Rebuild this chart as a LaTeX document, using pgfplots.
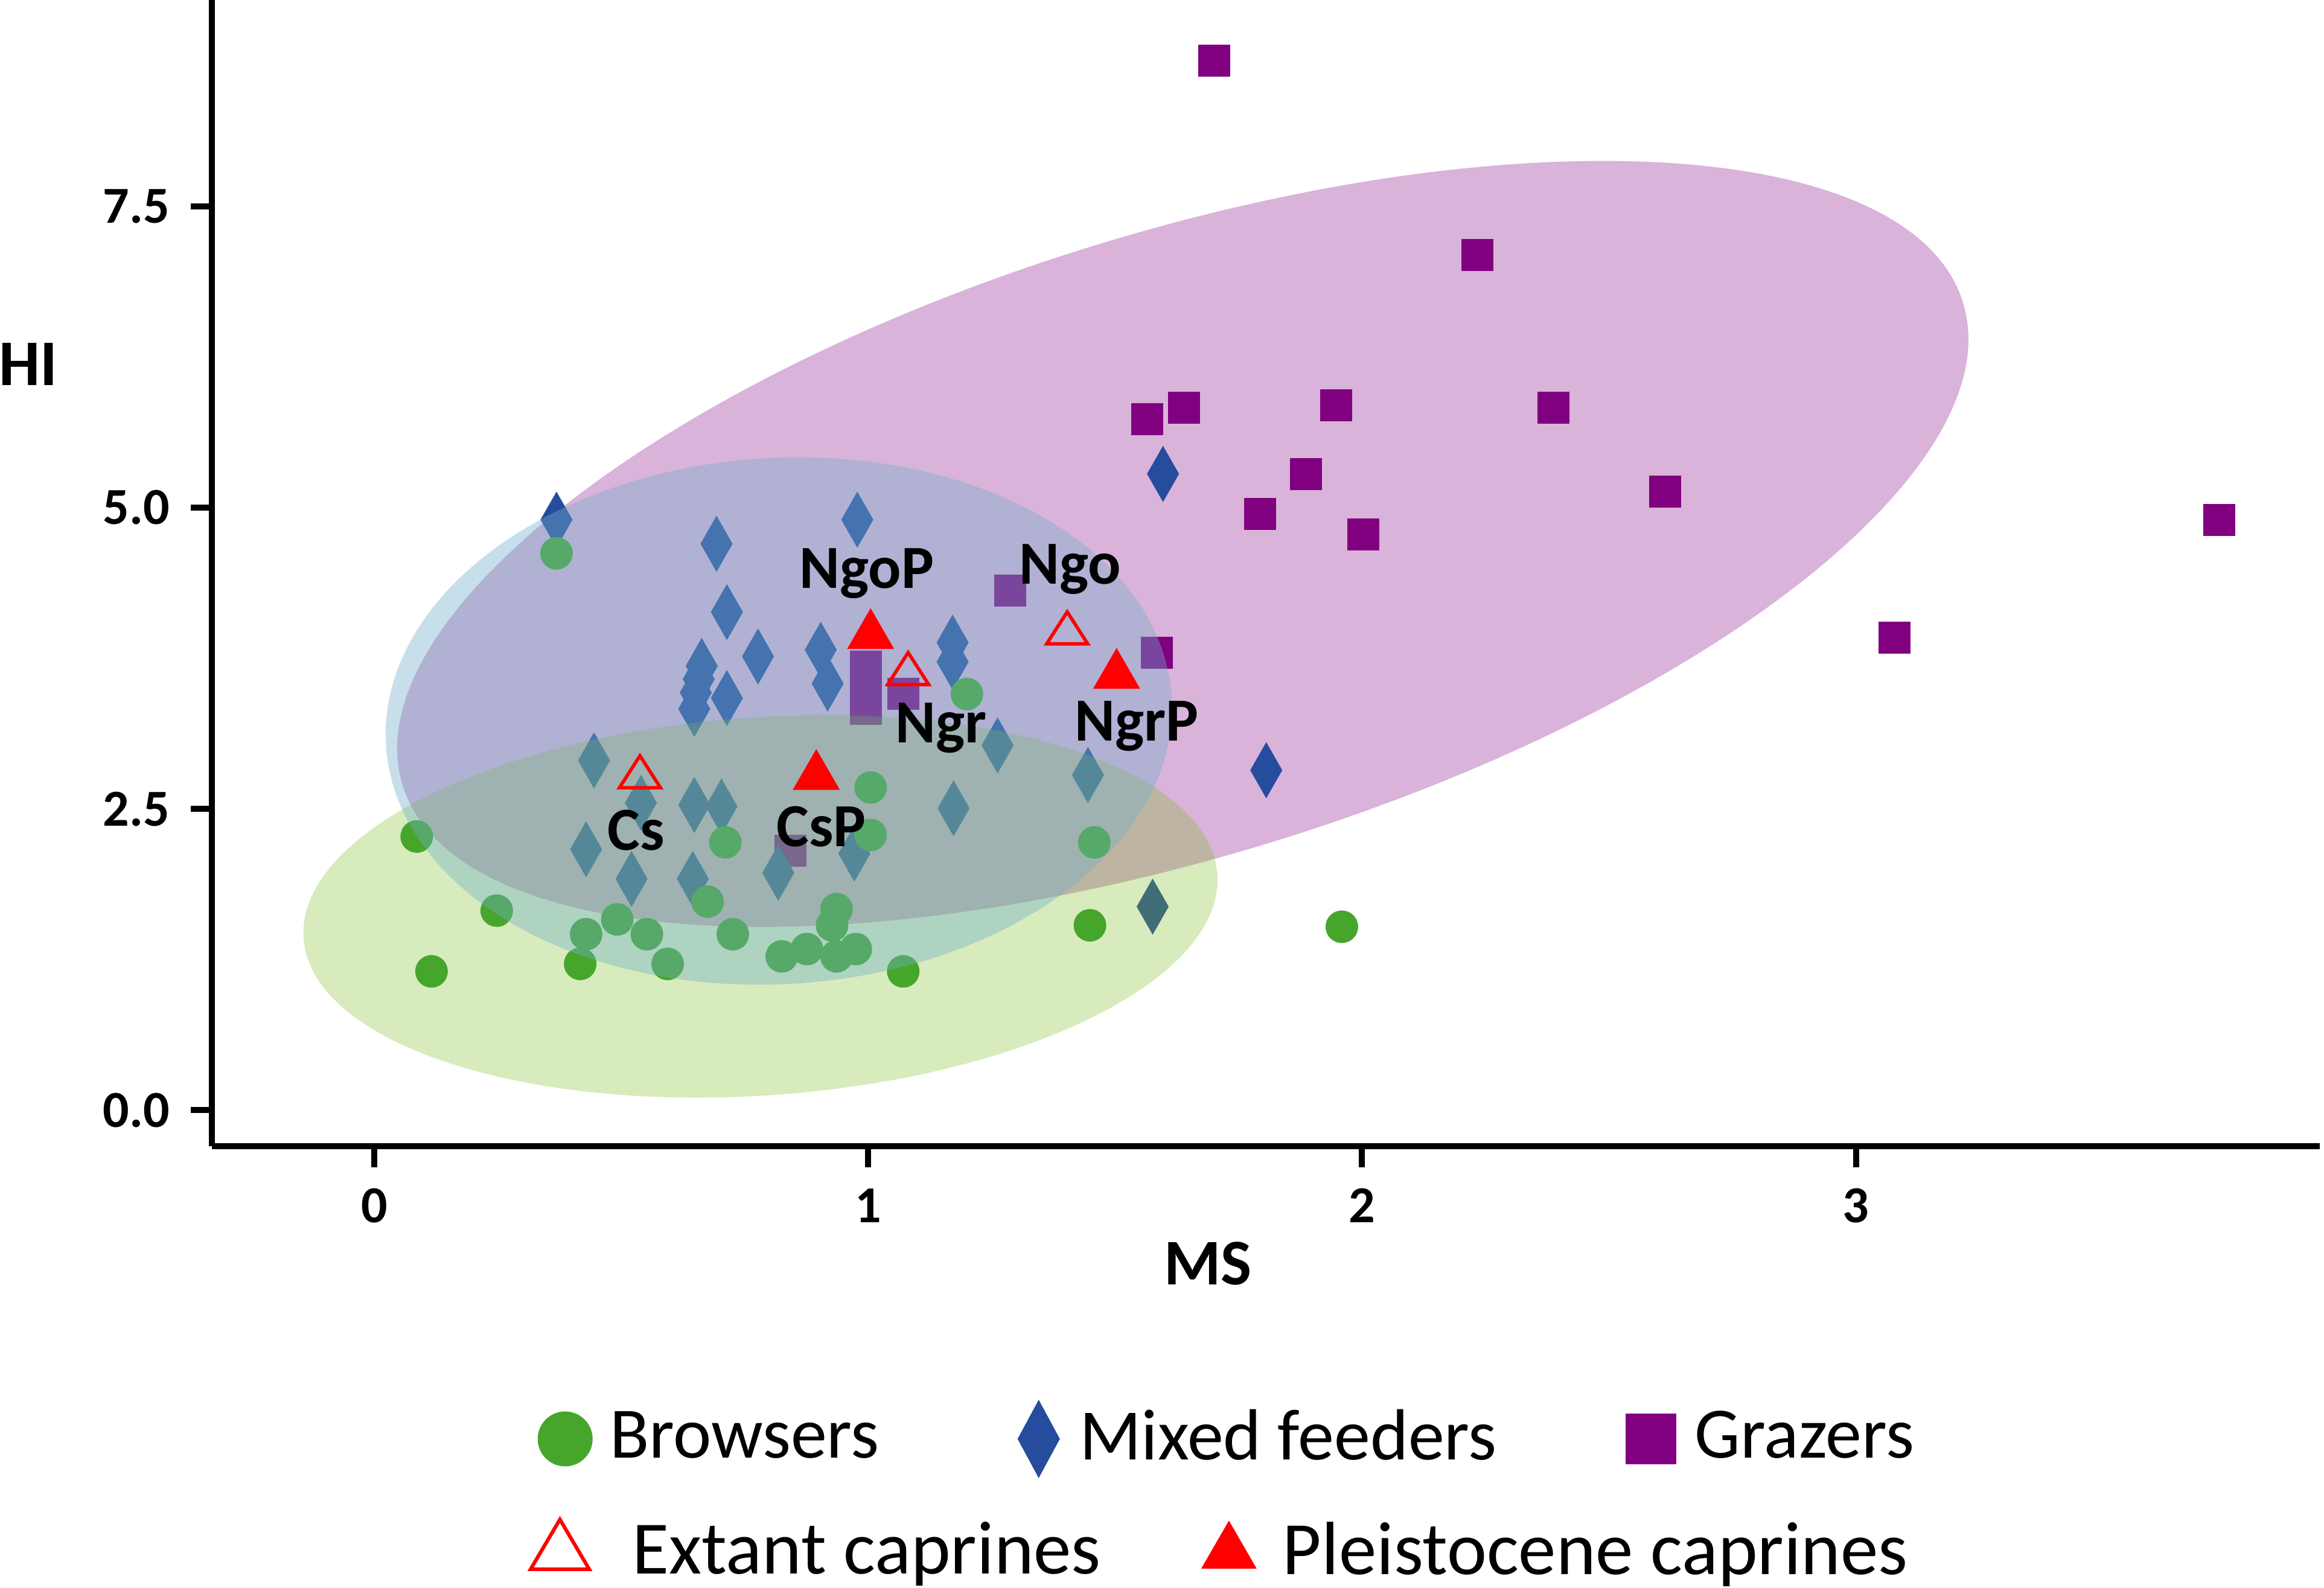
\documentclass[border=0pt]{standalone}
\usepackage{fontspec}
\setmainfont{Carlito}
\usepackage{pgfplots}
\pgfplotsset{compat=1.18}
\definecolor{browse}{HTML}{45A62B}
\definecolor{mixed}{RGB}{38,76,158}
\definecolor{graze}{HTML}{800080}
\definecolor{pinkell}{HTML}{D9B3D9}
\definecolor{greenell}{RGB}{125,188,32}
\definecolor{blueell}{RGB}{115,175,202}
\begin{document}
\begin{tikzpicture}
\useasboundingbox (-35.11pt,-73.2pt) rectangle (349.9pt,189.9pt);
\begin{axis}[
  at={(0pt,0pt)}, anchor=south west,
  scale only axis, width=349.2pt, height=189.9pt,
  xmin=-0.3286, xmax=3.939, ymin=-0.299, ymax=9.213,
  clip marker paths=true,
  axis x line*=bottom, axis y line*=left,
  axis line style={line width=1pt, black},
  xtick={0,1,2,3}, xticklabels={0,1,2,3},
  ytick={0,2.5,5,7.5}, yticklabels={0.0,2.5,5.0,7.5},
  tick align=outside, major tick length=3.5pt,
  tick style={line width=1pt, black},
  ticklabel style={font=\bfseries\fontsize{8.6}{10}\selectfont},
  xlabel={MS}, ylabel={HI},
  label style={font=\bfseries\fontsize{10.8}{13}\selectfont},
  xlabel style={at={(axis description cs:0.4725,-0.1211)}, anchor=base},
  ylabel style={at={(axis description cs:-0.0872,0.682)}, anchor=center, rotate=-90},
  legend columns=3,
  legend image code/.code={\draw[#1] plot coordinates {(0pt,0pt)};},
  legend cell align=left,
  legend style={at={(0.1547,-0.2554)}, anchor=west, draw=none, fill=none,
    inner sep=0pt, outer sep=0pt, font=\fontsize{12}{14.4}\selectfont,
    nodes={inner xsep=0pt, inner ysep=1pt},
    /tikz/column 1/.style={column sep=2.9pt},
    /tikz/column 2/.style={column sep=23pt},
    /tikz/column 3/.style={column sep=3.3pt},
    /tikz/column 4/.style={column sep=21.4pt},
    /tikz/column 5/.style={column sep=3.1pt}},
]
% grazer ellipse (below markers)
\fill[pinkell] (axis cs:1.637,4.699) ellipse [x radius=135.3pt, y radius=51.56pt, rotate=17.2];
% grazers
\addplot[only marks, mark=square*, mark size=2.6pt, color=graze, mark options={line width=0.1pt}, forget plot] coordinates {
(1.701,8.711) (2.234,7.096) (1.565,5.735) (1.639,5.827) (1.947,5.851) (2.388,5.827)
(1.887,5.28) (1.793,4.946) (2.002,4.776) (2.613,5.134) (3.736,4.898) (3.078,3.92)
(1.287,4.314) (1.584,3.798) (0.996,3.68) (0.996,3.50) (0.996,3.33) (1.071,3.453) (0.843,2.155)
};
% mixed feeders
\addplot[only marks, mark=diamond*, mark size=4.55pt, color=mixed, mark options={xscale=0.76, line width=0.1pt}, forget plot] coordinates {
(0.369,4.90) (0.693,4.70) (0.978,4.90) (0.714,4.133) (0.777,3.765) (0.663,3.686)
(0.657,3.576) (0.651,3.465) (0.648,3.33) (0.714,3.42) (0.904,3.82) (0.918,3.54)
(1.171,3.88) (1.171,3.72) (1.262,3.027) (0.445,2.902) (0.540,2.55) (0.648,2.533)
(0.703,2.52) (0.429,2.165) (0.521,1.919) (0.645,1.919) (0.818,1.970) (0.972,2.129)
(1.173,2.505) (1.445,2.781) (1.576,1.689) (1.806,2.821) (1.597,5.28)
};
% browser ellipse
\fill[greenell, fill opacity=0.3] (axis cs:0.782,1.691) ellipse [x radius=75.87pt, y radius=31.31pt, rotate=4];
% browsers
\addplot[only marks, mark=*, mark size=2.65pt, color=browse, mark options={line width=0.1pt}, forget plot] coordinates {
(0.369,4.621) (0.086,2.271) (0.116,1.152) (0.248,1.656) (0.417,1.214) (0.429,1.460)
(0.492,1.583) (0.552,1.460) (0.594,1.214) (0.675,1.730) (0.711,2.222) (0.726,1.460)
(0.825,1.276) (0.876,1.337) (0.936,1.276) (0.936,1.669) (0.927,1.533) (0.975,1.337)
(1.005,2.678) (1.005,2.284) (1.071,1.152) (1.200,3.453) (1.449,1.534) (1.458,2.222) (1.959,1.522)
};
% mixed feeder ellipse
\fill[blueell, fill opacity=0.4] (axis cs:0.819,3.229) ellipse [x radius=65.19pt, y radius=43.58pt, rotate=3.5];
% extant caprines
\addplot[only marks, mark=triangle, mark size=3.93pt, color=red, mark options={yscale=0.9, line width=0.56pt}, forget plot] coordinates {
(0.538,2.764) (1.081,3.62) (1.403,3.958)
};
% pleistocene caprines
\addplot[only marks, mark=triangle*, mark size=4.4pt, color=red, mark options={line width=0.1pt}, forget plot] coordinates {
(1.005,3.94) (0.895,2.771) (1.503,3.61)
};
\begin{scope}[every node/.style={anchor=base, inner sep=0pt, font=\bfseries\fontsize{10.15}{12}\selectfont}]
\node at (axis cs:0.997,4.330) {NgoP};
\node at (axis cs:1.409,4.367) {Ngo};
\node at (axis cs:1.148,3.050) {Ngr};
\node at (axis cs:1.544,3.063) {NgrP};
\node at (axis cs:0.530,2.157) {Cs};
\node at (axis cs:0.905,2.189) {CsP};
\end{scope}
\addlegendimage{mark=*, color=browse, mark size=4.5pt, mark options={line width=0.1pt}}
\addlegendentry{Browsers}
\addlegendimage{mark=diamond*, color=mixed, mark size=6.38pt, mark options={xscale=0.72, line width=0.1pt}}
\addlegendentry{Mixed feeders}
\addlegendimage{mark=square*, color=graze, mark size=4.15pt, mark options={line width=0.1pt}}
\addlegendentry{Grazers}
\end{axis}
\begin{axis}[
  at={(0pt,0pt)}, anchor=south west,
  scale only axis, width=349.2pt, height=189.9pt,
  hide axis, xmin=0, xmax=1, ymin=0, ymax=1,
  legend columns=2,
  legend image code/.code={\draw[#1] plot coordinates {(0pt,0pt)};},
  legend cell align=left,
  legend style={at={(0.1512,-0.3546)}, anchor=west, draw=none, fill=none,
    inner sep=0pt, outer sep=0pt, font=\fontsize{12.5}{15}\selectfont,
    nodes={inner xsep=0pt, inner ysep=1pt},
    /tikz/column 1/.style={column sep=7.1pt},
    /tikz/column 2/.style={column sep=16.7pt},
    /tikz/column 3/.style={column sep=4.4pt}},
]
\addlegendimage{mark=triangle, color=red, mark size=5.6pt, mark options={yscale=0.98, line width=0.6pt}}
\addlegendentry{Extant caprines}
\addlegendimage{mark=triangle*, color=red, mark size=5.2pt, mark options={line width=0.1pt}}
\addlegendentry{Pleistocene caprines}
\end{axis}
\end{tikzpicture}
\end{document}
